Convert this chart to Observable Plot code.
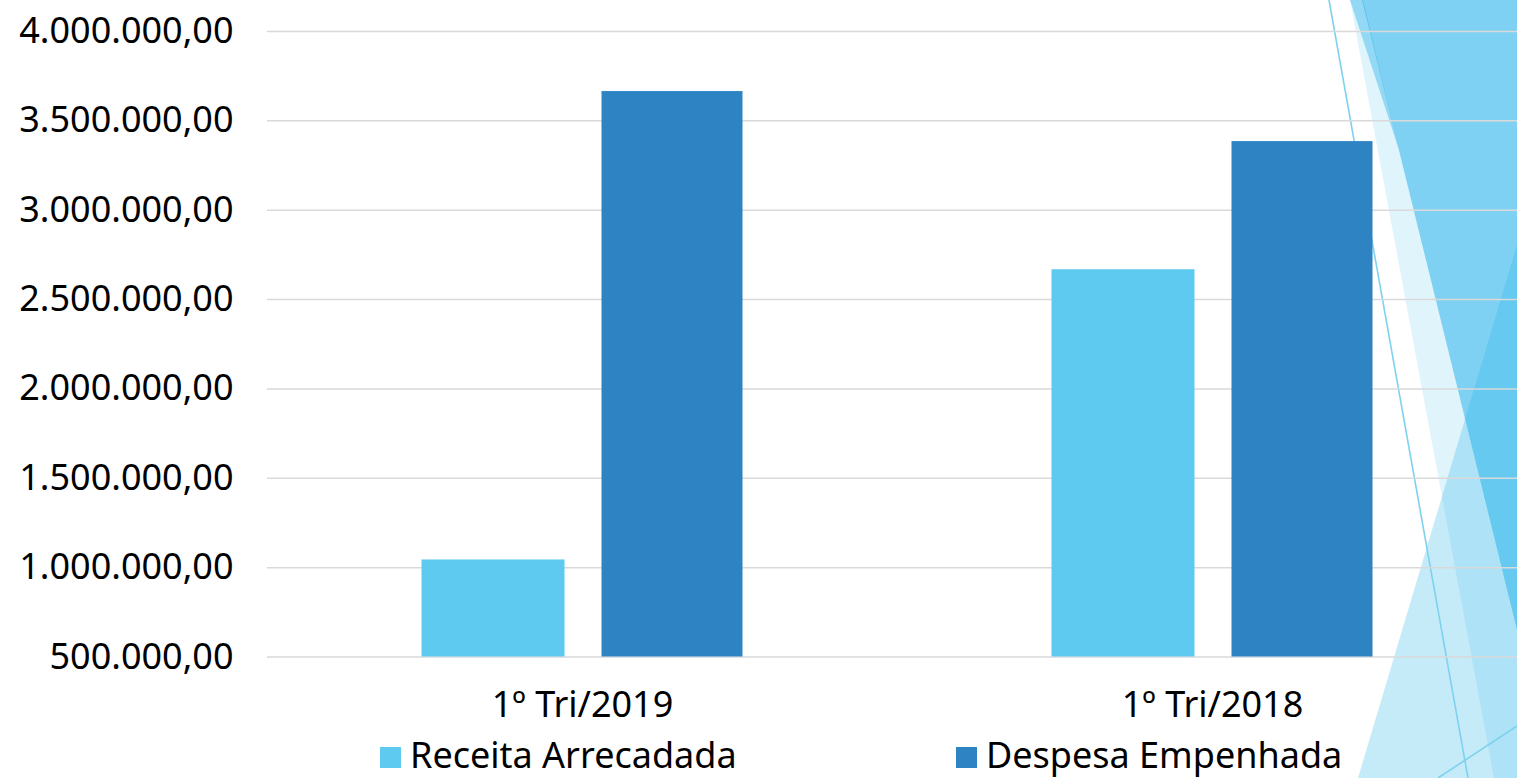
<!DOCTYPE html>
<html><head><meta charset="utf-8">
<script src="https://cdn.jsdelivr.net/npm/d3@7"></script>
<script src="https://cdn.jsdelivr.net/npm/@observablehq/plot@0.6"></script>
<style>
html,body{margin:0;padding:0;background:#fff;overflow:hidden}
#wrap{position:relative;width:1517px;height:778px;font-family:"Noto Sans",sans-serif;overflow:hidden}
#deco{position:absolute;left:0;top:0}
#chart{position:absolute;left:0;top:0}
#legend{position:absolute;left:380px;top:735px;font-size:36px;line-height:40px;color:#000;font-family:"Noto Sans",sans-serif}
.item{position:absolute;top:0;display:flex;align-items:center;white-space:nowrap}
.sw{width:21px;height:21px;margin-right:9px;flex:none;position:relative;top:2px}
</style></head><body>
<div id="wrap">
<svg id="deco" width="1517" height="778">
  <polygon points="1517,245 1517,778 1358,778" fill="rgba(32,176,232,0.26)"/>
  <polygon points="1362,0 1517,0 1517,630" fill="rgba(32,176,232,0.58)"/>
  <polygon points="1350,0 1362,0 1517,630 1517,778 1494,778" fill="rgba(32,176,232,0.14)"/>
  <polygon points="1350,0 1363,0 1399,150" fill="rgba(32,176,232,0.40)"/>
  <line x1="1329" y1="0" x2="1468" y2="778" stroke="#7ed2ef" stroke-width="1.6"/>
  <line x1="1438" y1="778" x2="1517" y2="726" stroke="#7ed2ef" stroke-width="1.6"/>
</svg>
<div id="chart"></div>
<div id="legend"></div>
</div>
<script>
const periods = ["1º Tri/2019", "1º Tri/2018"];
const seriesNames = ["Receita Arrecadada", "Despesa Empenhada"];
const receita = [1043000, 2667000];
const despesa = [3664000, 3384000];
const yTicks = [500000, 1000000, 1500000, 2000000, 2500000, 3000000, 3500000, 4000000];
const colors = ["#5fcaef", "#2e84c3"];

const data = periods.flatMap((p, i) => [
  {period: p, series: seriesNames[0], value: receita[i]},
  {period: p, series: seriesNames[1], value: despesa[i]}
]);
const yMin = yTicks[0], yMax = yTicks[yTicks.length - 1];
const fmt = d3.formatLocale({decimal: ",", thousands: ".", grouping: [3], currency: ["R$", ""]}).format(",.2f");

const plot = Plot.plot({
  width: 1517, height: 728,
  marginLeft: 267, marginRight: 0, marginTop: 31, marginBottom: 71.5,
  style: {background: "transparent", fontFamily: "Noto Sans", color: "#000", overflow: "visible"},
  x: {domain: periods, range: [266.5, 1526.5], padding: 0},
  y: {domain: [yMin, yMax]},
  color: {domain: seriesNames, range: colors},
  marks: [
    Plot.ruleY(yTicks, {stroke: "#d9d9d9", strokeWidth: 1.5}),
    Plot.barY(data.filter(d => d.series === seriesNames[0]), {x: "period", y1: yMin, y2: "value", fill: "series", insetLeft: 154.5, insetRight: 332.5}),
    Plot.barY(data.filter(d => d.series === seriesNames[1]), {x: "period", y1: yMin, y2: "value", fill: "series", insetLeft: 334.5, insetRight: 154.5}),
    Plot.axisY({ticks: yTicks, tickFormat: fmt, tickSize: 0, tickPadding: 34, fontSize: 36, label: null}),
    Plot.axisX({tickSize: 0, tickPadding: 34, fontSize: 36, label: null})
  ]
});
document.getElementById("chart").appendChild(plot);

const legend = document.getElementById("legend");
const offsets = [0, 576];
seriesNames.forEach((s, i) => {
  const item = document.createElement("div");
  item.className = "item";
  item.style.left = offsets[i] + "px";
  const sw = document.createElement("span");
  sw.className = "sw";
  sw.style.background = colors[i];
  const t = document.createElement("span");
  t.textContent = s;
  item.appendChild(sw); item.appendChild(t);
  legend.appendChild(item);
});
</script>
</body></html>
